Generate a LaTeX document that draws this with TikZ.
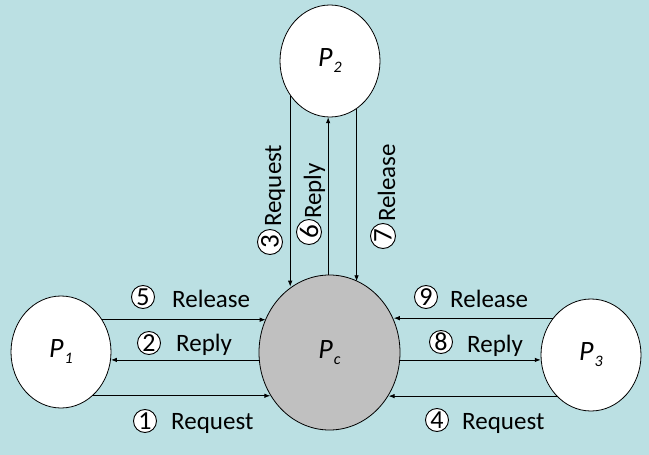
\documentclass[tikz,border=0pt]{standalone}
\usepackage{fontspec}
\setmainfont{Carlito}
\usetikzlibrary{shapes.geometric,arrows.meta}
\definecolor{bgc}{RGB}{187,224,227}
\definecolor{pcgray}{RGB}{192,192,192}
\newcommand{\proc}[2]{{\fontsize{28}{28}\selectfont\itshape #1\kern1pt\raisebox{-6pt}{\fontsize{16}{16}\selectfont\itshape #2}}}
\tikzset{
  proc/.style={ellipse,draw,line width=0.8pt,fill=white,inner sep=0pt,minimum width=100pt,minimum height=112pt},
  arr/.style={line width=0.8pt,-{Latex[length=6pt,width=4.5pt]}},
  numc/.style={circle,draw,line width=0.9pt,fill=white,inner sep=0pt,minimum size=23pt,font=\fontsize{26}{26}\selectfont},
  numv/.style={numc,minimum size=25pt,rotate=90,font=\fontsize{27}{27}\selectfont},
  hlab/.style={anchor=base west,inner sep=0pt,font=\fontsize{25}{25}\selectfont},
  vlab/.style={anchor=base west,inner sep=0pt,rotate=90,font=\fontsize{25}{25}\selectfont}
}
\begin{document}
\begin{tikzpicture}[x=1pt,y=-1pt]
\fill[bgc] (0,0) rectangle (649,455);
\useasboundingbox (0,0) rectangle (649,455);
% nodes
\node[proc] (p2) at (330,61) {\proc{P}{2}};
\node[proc] (p1) at (61,352) {\proc{P}{1}};
\node[proc] (p3) at (591,355) {\proc{P}{3}};
\node[proc,fill=pcgray,minimum width=141pt,minimum height=155pt] (pc) at (329.5,352.5) {\proc{P}{c}};
% left connectors
\draw[arr] (p1.38.7) -- (p1.38.7 -| pc.152.2);
\draw[arr] (pc.186.1) -- (pc.186.1 -| p1.-9);
\draw[arr] (p1.-54.3) -- (p1.-54.3 -| pc.216.7);
% right connectors
\draw[arr] (p3.136.8) -- (p3.136.8 -| pc.27.8);
\draw[arr] (pc.-6.1) -- (pc.-6.1 -| p3.185.7);
\draw[arr] (p3.230.3) -- (p3.230.3 -| pc.-36.7);
% vertical connectors
\draw[arr] (p2.221.9) -- (p2.221.9 |- pc.120.7);
\draw[arr] (pc.91.8) -- (pc.91.8 |- p2.266.9);
\draw[arr] (p2.299.8) -- (p2.299.8 |- pc.68.9);
% left labels
\node[numc] (n5) at (143,297) {5};
\node[hlab] (l5) at (172,307) {Release};
\node[numc] (n2) at (149,343) {2};
\node[hlab] (l2) at (176,351) {Reply};
\node[numc] (n1) at (145,421) {1};
\node[hlab] (l1) at (171,429) {Request};
% right labels
\node[numc] (n9) at (426,297) {9};
\node[hlab] (l9) at (450,307) {Release};
\node[numc] (n8) at (441,342) {8};
\node[hlab] (l8) at (467,352) {Reply};
\node[numc] (n4) at (437,420) {4};
\node[hlab] (l4) at (462,429) {Request};
% vertical labels
\node[numv] (n3) at (270,242) {3};
\node[vlab] (l3) at (281,227) {Request};
\node[numv] (n6) at (309,232) {6};
\node[vlab] (l6) at (321,219) {Reply};
\node[numv] (n7) at (383,236) {7};
\node[vlab] (l7) at (395,222) {Release};
\end{tikzpicture}
\end{document}
